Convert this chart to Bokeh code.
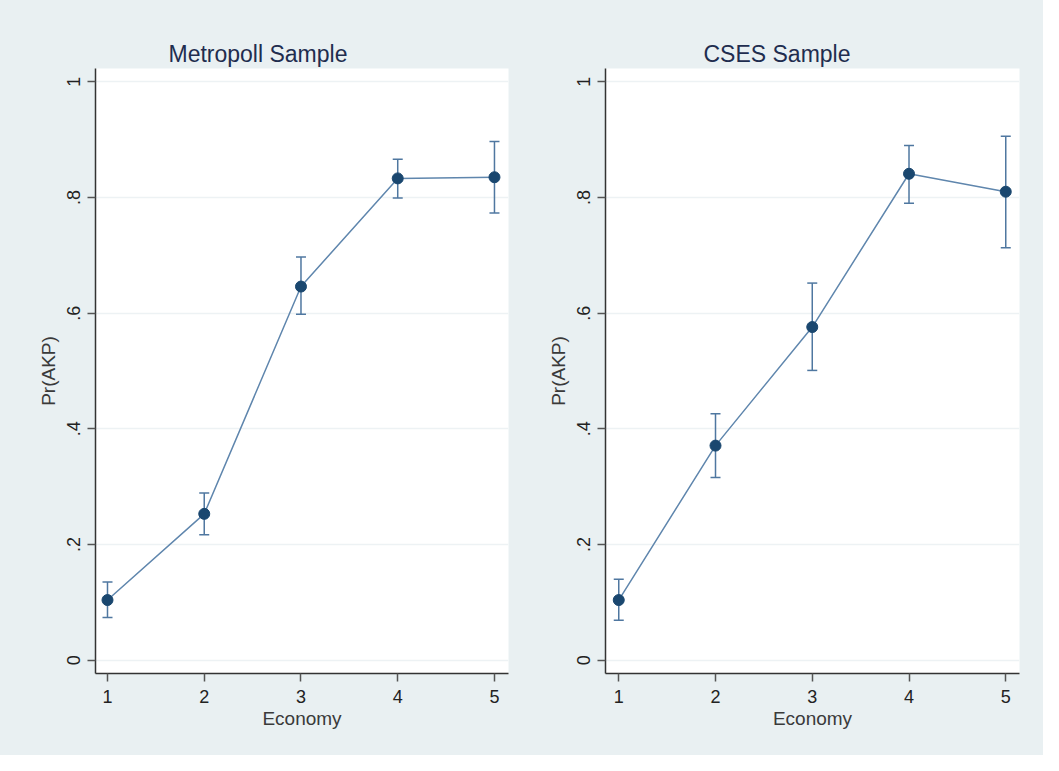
from bokeh.plotting import figure
from bokeh.layouts import row
from bokeh.models import Range1d, FixedTicker, ColumnDataSource, Whisker, TeeHead, Title
from bokeh.embed import file_html
from bokeh.resources import INLINE

# ---- data ----
economy = [1, 2, 3, 4, 5]
metro_pr = [0.104, 0.253, 0.646, 0.833, 0.835]
metro_lo = [0.074, 0.217, 0.598, 0.799, 0.773]
metro_hi = [0.135, 0.289, 0.697, 0.866, 0.897]
cses_pr = [0.104, 0.371, 0.576, 0.841, 0.810]
cses_lo = [0.069, 0.316, 0.501, 0.790, 0.713]
cses_hi = [0.140, 0.426, 0.652, 0.890, 0.906]
y_ticks = [0, 0.2, 0.4, 0.6, 0.8, 1]
y_tick_labels = ["0", ".2", ".4", ".6", ".8", "1"]
titles = ["Metropoll Sample", "CSES Sample"]

BG = "#E9F0F2"
MARK = "#1A476F"
LINE = "#5F86AD"
CI = "#4F77A0"
FONT = "Liberation Sans"


def panel(title, pr, lo, hi, width, bl, br, xr, toff):
    p = figure(width=width, height=755, x_range=Range1d(*xr),
               y_range=Range1d(-0.023, 1.023), output_backend="svg",
               toolbar_location=None, min_border_left=bl, min_border_right=br,
               min_border_top=68, min_border_bottom=82)
    p.title = Title(text=title, align="left", offset=toff, standoff=3,
                    text_font_size="23px", text_font=FONT,
                    text_font_style="normal", text_color="#1F2D4F")
    p.border_fill_color = BG
    p.background_fill_color = "white"
    p.outline_line_color = None

    p.xgrid.visible = False
    p.ygrid.ticker = FixedTicker(ticks=y_ticks)
    p.ygrid.grid_line_color = "#EDF2F4"
    p.ygrid.grid_line_width = 1.5

    for ax in (p.xaxis[0], p.yaxis[0]):
        ax.axis_line_color = "#333333"
        ax.axis_line_width = 1.5
        ax.major_tick_in = 0
        ax.major_tick_out = 8
        ax.major_tick_line_color = "#555555"
        ax.major_tick_line_width = 1.5
        ax.minor_tick_line_color = None
        ax.major_label_text_font = FONT
        ax.major_label_text_font_size = "18px"
        ax.major_label_text_color = "#222222"
        ax.axis_label_text_font = FONT
        ax.axis_label_text_font_size = "19px"
        ax.axis_label_text_font_style = "normal"
        ax.axis_label_text_color = "#3A3A3A"

    p.xaxis.ticker = FixedTicker(ticks=economy)
    p.xaxis.axis_label = "Economy"
    p.xaxis.major_label_standoff = 8
    p.xaxis.axis_label_standoff = 2

    p.yaxis.ticker = FixedTicker(ticks=y_ticks)
    p.yaxis.major_label_overrides = {t: l for t, l in zip(y_ticks, y_tick_labels)}
    p.yaxis.major_label_orientation = "vertical"
    p.yaxis.axis_label = "Pr(AKP)"
    p.yaxis.major_label_standoff = 7
    p.yaxis.axis_label_standoff = 6

    src = ColumnDataSource(dict(x=economy, pr=pr, lo=lo, hi=hi))
    w = Whisker(base="x", lower="lo", upper="hi", source=src,
                line_color=CI, line_width=1.5,
                upper_head=TeeHead(size=10, line_color=CI, line_width=1.5),
                lower_head=TeeHead(size=10, line_color=CI, line_width=1.5))
    p.add_layout(w)
    p.line("x", "pr", source=src, line_color=LINE, line_width=1.5)
    p.scatter("x", "pr", source=src, size=11, fill_color=MARK, line_color=MARK)
    return p


p1 = panel(titles[0], metro_pr, metro_lo, metro_hi, 521, 95, 13, (0.876, 5.145), 73)
p2 = panel(titles[1], cses_pr, cses_lo, cses_hi, 522, 84, 24, (0.863, 5.142), 98)

layout = row(p1, p2, spacing=0, styles={"background-color": BG})
open("out.html", "w").write(file_html(layout, INLINE))
